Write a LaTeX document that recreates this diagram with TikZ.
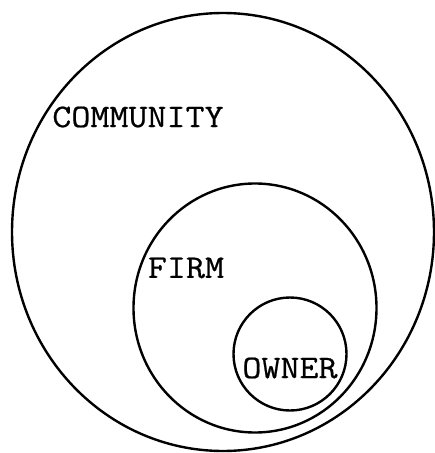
\documentclass[tikz,border=0pt]{standalone}
\usepackage{fontspec}
\setmonofont{Latin Modern Mono}[FakeStretch=1.12, FakeBold=0.6]
\usepackage{tikz}
\usetikzlibrary{shapes.geometric, positioning}
\tikzset{
  ring/.style={ellipse, draw=black, line width=2.4pt, inner sep=0pt, outer sep=0pt},
  tag/.style={font=\fontsize{33}{38}\selectfont\ttfamily, inner sep=0pt}
}

\begin{document}
\begin{tikzpicture}[x=1pt, y=-1pt]
  \useasboundingbox (0,0) rectangle (435,453);

  % Circles
  \node[ring, minimum width=422pt, minimum height=438pt] (community) at (223,232) {};
  \node[ring, minimum width=243pt, minimum height=249pt] (firm) at (255,308) {};
  \node[ring, minimum width=113pt, minimum height=113pt] (owner) at (290,354) {};

  % Labels
  \node[tag] (communitytxt) at (138,117) {COMMUNITY};
  \node[tag] (firmtxt) at (186,268) {FIRM};
  \node[tag] (ownertxt) at (290,368) {OWNER};
\end{tikzpicture}
\end{document}
